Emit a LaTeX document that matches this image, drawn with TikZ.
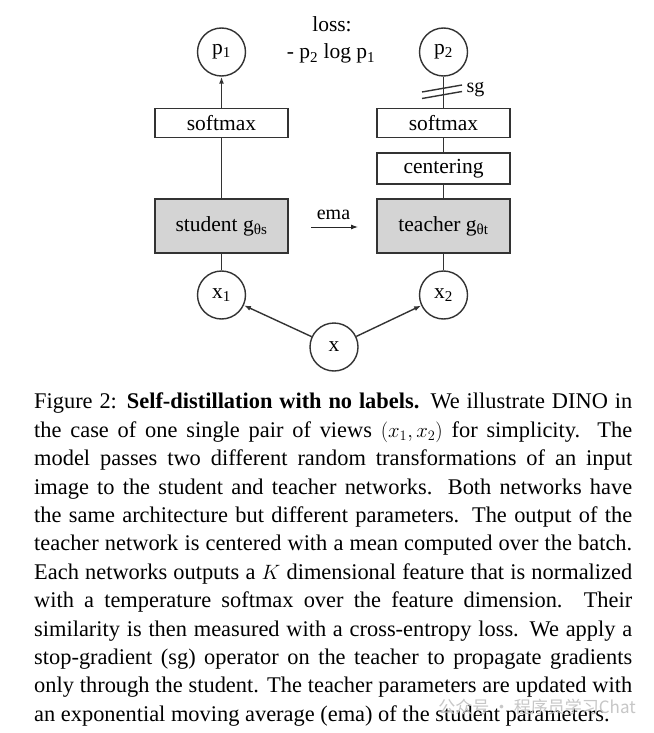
\documentclass[tikz,border=0pt]{standalone}
\usepackage{fontspec}
\setmainfont{Liberation Serif}
\newfontfamily\cjkfont{Noto Sans CJK SC}
\usetikzlibrary{arrows.meta,positioning}
\hyphenpenalty=10000
\begin{document}
\begin{tikzpicture}[x=1pt,y=-1pt,
    every node/.style={font=\fontsize{21.5}{26}\selectfont},
    var/.style={circle,draw=black!80,line width=1.4pt,minimum size=48pt,inner sep=0pt},
    layer/.style={draw=black!80,line width=1.4pt,minimum width=133pt,minimum height=29pt,inner sep=0pt},
    net/.style={layer,fill=black!17,minimum height=54pt},
    link/.style={draw=black!80,line width=1.4pt},
    >={Latex[length=7pt,width=5pt]}]
    \useasboundingbox (0,0) rectangle (653,733);
    \fill[white] (0,0) rectangle (653,733);

    % outputs and loss
    \node[var] (p1) at (221.5,52) {p\textsubscript{1}};
    \node[var] (p2) at (443.5,52) {p\textsubscript{2}};
    \node[anchor=base] (loss) at (332,32) {loss:};
    \node[anchor=base] (lossf) at (331,59) {- p\textsubscript{2} log p\textsubscript{1}};

    % student branch
    \node[layer] (sm1) at (221.5,123) {softmax};
    \node[net] (stu) at (221.5,226) {student g\textsubscript{θs}};
    \node[var] (x1) at (221.5,295) {x\textsubscript{1}};

    % teacher branch
    \node[layer] (sm2) at (443.5,123) {softmax};
    \node[layer,minimum height=31pt] (cent) at (443.5,168.5) {centering};
    \node[net] (tea) at (443.5,226) {teacher g\textsubscript{θt}};
    \node[var] (x2) at (443.5,295) {x\textsubscript{2}};

    \node[var] (x) at (334,347) {x};

    \draw[link,->] (sm1) -- (p1);
    \draw[link] (stu) -- (sm1);
    \draw[link] (x1) -- (stu);
    \draw[link] (sm2) -- (p2);
    \draw[link] (cent) -- (sm2);
    \draw[link] (tea) -- (cent);
    \draw[link] (x2) -- (tea);
    \draw[link,->] (x) -- (x1);
    \draw[link,->] (x) -- (x2);

    % stop-gradient
    \coordinate (sgA) at (442,88.5);
    \coordinate (sgB) at (442,95);
    \draw[link] ([shift={(-20,3.5)}]sgA) -- ([shift={(20,-3.5)}]sgA);
    \draw[link] ([shift={(-20,3.5)}]sgB) -- ([shift={(20,-3.5)}]sgB);
    \node[anchor=base,font=\fontsize{20}{24}\selectfont] (sgl) at (475.5,93) {sg};

    % ema
    \coordinate (emaL) at (311,227);
    \coordinate (emaR) at (358,227);
    \draw[black!85,line width=1pt,->] (emaL) -- (emaR);
    \node[anchor=base,font=\fontsize{20}{24}\selectfont] (ema) at (333.5,219) {ema};

    % caption
    \node[anchor=north west,inner sep=0pt,text width=598pt,align=justify,
        font=\fontsize{22.4}{28.4}\selectfont] (cap) at (34,393) {%
        Figure 2: \textbf{Self-distillation with no labels.} We illustrate DINO in\linebreak
        the case of one single pair of views $(x_1, x_2)$ for simplicity. The\linebreak
        model passes two different random transformations of an input\linebreak
        image to the student and teacher networks. Both networks have\linebreak
        the same architecture but different parameters. The output of the\linebreak
        teacher network is centered with a mean computed over the batch.\linebreak
        Each networks outputs a $K$ dimensional feature that is normalized\linebreak
        with a temperature softmax over the feature dimension. Their\linebreak
        similarity is then measured with a cross-entropy loss. We apply a\linebreak
        stop-gradient (sg) operator on the teacher to propagate gradients\linebreak
        only through the student. The teacher parameters are updated with\linebreak
        an exponential moving average (ema) of the student parameters.};

    \node[font=\cjkfont\fontsize{17}{20}\selectfont,text=black!22] (mark) at (537,707) {公众号 · 程序员学习Chat};
\end{tikzpicture}
\end{document}
